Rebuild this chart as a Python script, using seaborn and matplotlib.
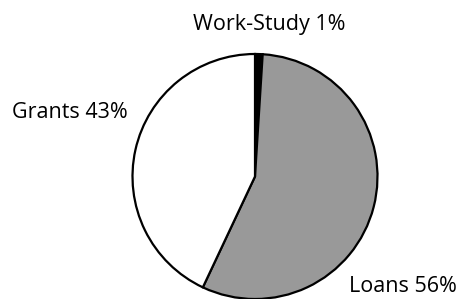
import matplotlib
matplotlib.use("Agg")
import matplotlib.pyplot as plt
import seaborn as sns

sns.set_theme(style="white")
plt.rcParams["font.family"] = ["Open Sans", "DejaVu Sans"]

# Aid types and share of total (%)
aid_types = ["Work-Study", "Loans", "Grants"]
shares = [1, 56, 43]
slice_colors = ["#000000", "#999999", "#ffffff"]

fig = plt.figure(figsize=(4.66, 2.99), dpi=100)
ax = fig.add_axes([132.5 / 466, 0.0, 245 / 466, 245 / 299])

ax.pie(shares, colors=slice_colors, startangle=90, counterclock=False,
       radius=1.0, wedgeprops=dict(edgecolor="black", linewidth=1.6))
ax.set_xlim(-1, 1)
ax.set_ylim(-1, 1)
ax.set_aspect("equal")
ax.axis("off")

# label positions in pie units (same order as aid_types)
label_pos = [(0.12, 1.24), (1.21, -0.90), (-1.51, 0.52)]
for name, val, (x, y) in zip(aid_types, shares, label_pos):
    ax.text(x, y, f"{name} {val}%", ha="center", va="center",
            fontsize=15.5, color="#000000", clip_on=False)

plt.savefig("out.png", dpi=100)
